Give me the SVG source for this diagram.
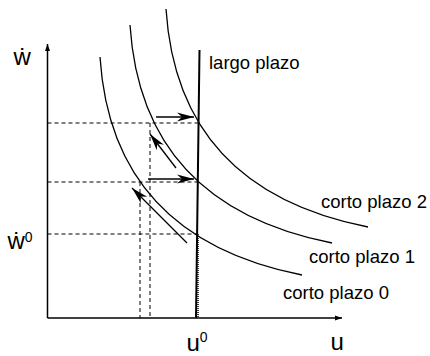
<svg xmlns="http://www.w3.org/2000/svg" width="430" height="356" viewBox="0 0 430 356">
<style>
.txt{font-family:"Liberation Sans",Arial,sans-serif;fill:#000}
.lab{font-size:18.5px}
.big{font-size:24px}
.sup{font-size:14px}
.curve{fill:none;stroke:#000;stroke-width:1.3}
.dash{fill:none;stroke:#000;stroke-width:1;stroke-dasharray:4 3}
.axis{fill:none;stroke:#000;stroke-width:1.5}
.mv{fill:none;stroke:#000;stroke-width:1.3}
</style>
<defs>
<marker id="ah" markerUnits="userSpaceOnUse" markerWidth="18" markerHeight="12" refX="17" refY="6" orient="auto">
<path d="M0,1.5 L17,6 L0,10.5 L5,6 Z" fill="#000"/>
</marker>
<marker id="ax" markerUnits="userSpaceOnUse" markerWidth="8" markerHeight="8" refX="7" refY="4" orient="auto">
<path d="M0,1.5 L7,4 L0,6.5 Z" fill="#000"/>
</marker>
<path id="sr" d="M100,57 C106,150 150,245 302,275"/>
</defs>
<g id="axes">
<line class="axis" x1="47.5" y1="318" x2="47.5" y2="44" marker-end="url(#ax)"/>
<line class="axis" x1="47.5" y1="318" x2="342" y2="318" stroke="#333" stroke-width="2" marker-end="url(#ax)"/>
</g>
<g id="guides">
<line class="dash" x1="47.5" y1="123" x2="199" y2="123"/>
<line class="dash" x1="47.5" y1="182" x2="198" y2="182"/>
<line class="dash" x1="47.5" y1="234" x2="197" y2="234"/>
<line class="dash" x1="150" y1="123" x2="150" y2="318"/>
<line class="dash" x1="140" y1="182" x2="140" y2="318"/>
</g>
<g id="largo-plazo">
<line x1="199.5" y1="50" x2="196" y2="318" stroke="#000" stroke-width="2"/>
<line x1="198" y1="234" x2="198" y2="318" stroke="#000" stroke-width="1.5" stroke-dasharray="1 1"/>
<text class="txt lab" x="209" y="69">largo plazo</text>
</g>
<g id="corto-plazo-0">
<use href="#sr" class="curve"/>
<text class="txt lab" x="283" y="299">corto plazo 0</text>
</g>
<g id="corto-plazo-1">
<use href="#sr" class="curve" transform="translate(30,-32)"/>
<text class="txt lab" x="309" y="263">corto plazo 1</text>
</g>
<g id="corto-plazo-2">
<use href="#sr" class="curve" transform="translate(66,-48)"/>
<text class="txt lab" x="321" y="208">corto plazo 2</text>
</g>
<g id="connectors">
<line class="mv" x1="156" y1="117" x2="194" y2="117" marker-end="url(#ah)"/>
<line class="mv" x1="176" y1="168" x2="150" y2="134" marker-end="url(#ah)"/>
<line class="mv" x1="148" y1="179" x2="194" y2="179" marker-end="url(#ah)"/>
<line class="mv" x1="187" y1="243" x2="132" y2="188" marker-end="url(#ah)"/>
</g>
<g id="labels">
<text class="txt big" x="13.5" y="65">ẇ</text>
<text class="txt big" x="7.5" y="249">ẇ<tspan class="sup" dy="-7">0</tspan></text>
<text class="txt big" x="186.5" y="350.8">u<tspan class="sup" dy="-9">0</tspan></text>
<text class="txt big" x="330.5" y="349.5">u</text>
</g>
</svg>
